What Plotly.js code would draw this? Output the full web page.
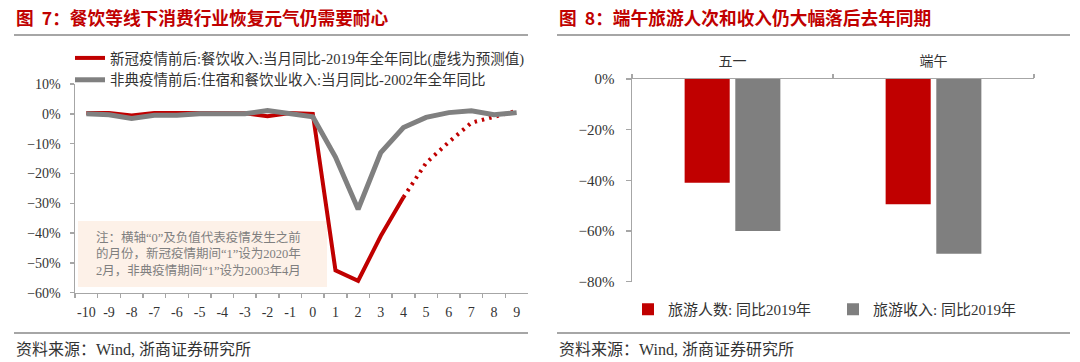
<!DOCTYPE html>
<html>
<head>
<meta charset="utf-8">
<script src="https://cdn.plot.ly/plotly-3.0.1.min.js"></script>
<style>html,body{margin:0;padding:0;background:#fff;}#chart{width:1080px;height:362px;}</style>
</head>
<body>
<div id="chart"></div>
<script>
// ---- data ----
const monthLabels = ['-10','-9','-8','-7','-6','-5','-4','-3','-2','-1','0','1','2','3','4','5','6','7','8','9'];
const covidMonths = ['-10','-9','-8','-7','-6','-5','-4','-3','-2','-1','0','1','2','3','4'];
const covidValues = [0.3, 0.3, -0.6, 0.3, 0.3, 0.3, 0.2, 0.2, -0.8, 0.3, 0.0, -52.5, -56, -41, -28];
const covidForecastMonths = ['4','5','6','7','8','9'];
const covidForecastValues = [-28, -16.5, -9.5, -3, -1, 1];
const sarsMonths = monthLabels;
const sarsValues = [0, -0.3, -1.6, -0.5, -0.5, 0, 0, 0, 1.1, 0, -1.0, -14.5, -32, -13, -4.6, -1.2, 0.4, 1.0, -0.3, 0.4];
const covidName = '新冠疫情前后:餐饮收入:当月同比-2019年全年同比(虚线为预测值)';
const sarsName = '非典疫情前后:住宿和餐饮业收入:当月同比-2002年全年同比';

const holidays = ['五一', '端午'];
const touristCount = [-41, -49.5];
const touristIncome = [-60, -69];
const countName = '旅游人数: 同比2019年';
const incomeName = '旅游收入: 同比2019年';

const title7 = '图&nbsp;&nbsp;7：餐饮等线下消费行业恢复元气仍需要耐心';
const title8 = '图&nbsp;&nbsp;8：端午旅游人次和收入仍大幅落后去年同期';
const sourceText = '资料来源：Wind, 浙商证券研究所';
const noteText = '注：横轴“0”及负值代表疫情发生之前<br>的月份，新冠疫情期间“1”设为2020年<br>2月，非典疫情期间“1”设为2003年4月';

// ---- styling ----
const RED = '#C00000';
const GRAY = '#808080';
const AXIS = '#A6A6A6';
const FONT = "'Liberation Serif', 'Times New Roman', 'Noto Sans CJK SC', serif";
const W = 1080, H = 362;
const px = v => v / W;
const py = v => (H - v) / H;

const traces = [
  {x: covidMonths, y: covidValues, type: 'scatter', mode: 'lines', name: covidName,
   line: {color: RED, width: 4}, xaxis: 'x', yaxis: 'y', legend: 'legend'},
  {x: covidForecastMonths, y: covidForecastValues, type: 'scatter', mode: 'lines', name: '预测',
   line: {color: RED, width: 4, dash: '2.5px,5px'}, xaxis: 'x', yaxis: 'y', showlegend: false},
  {x: sarsMonths, y: sarsValues, type: 'scatter', mode: 'lines', name: sarsName,
   line: {color: GRAY, width: 5}, xaxis: 'x', yaxis: 'y', legend: 'legend'},
  {x: holidays, y: touristCount, type: 'bar', name: countName, marker: {color: RED},
   xaxis: 'x2', yaxis: 'y2', legend: 'legend2'},
  {x: holidays, y: touristIncome, type: 'bar', name: incomeName, marker: {color: '#7F7F7F'},
   xaxis: 'x2', yaxis: 'y2', legend: 'legend2'}
];

const layout = {
  width: W, height: H,
  margin: {l: 0, r: 0, t: 0, b: 0},
  paper_bgcolor: '#fff', plot_bgcolor: 'rgba(0,0,0,0)',
  font: {family: FONT, size: 14, color: '#333'},
  barmode: 'group', bargap: 0.496, bargroupgap: 0.11,
  xaxis: {
    domain: [px(75), px(528)], anchor: 'y', type: 'category',
    categoryorder: 'array', categoryarray: monthLabels,
    range: [-0.5, 19.5], tickson: 'boundaries', tickangle: 0,
    showline: true, linecolor: AXIS, linewidth: 1.5,
    ticks: 'outside', ticklen: 4, tickcolor: AXIS, tickwidth: 1.5,
    ticklabelstandoff: 6, showgrid: false, zeroline: false,
    tickfont: {family: FONT, size: 14, color: '#333'}
  },
  yaxis: {
    domain: [py(292.7), py(84)], anchor: 'x', range: [-60, 10], dtick: 10,
    ticksuffix: '%', showline: true, linecolor: AXIS, linewidth: 1.5,
    ticks: 'outside', ticklen: 4, tickcolor: AXIS, tickwidth: 1.5,
    ticklabelstandoff: 6, showgrid: false, zeroline: false,
    tickfont: {family: FONT, size: 14, color: '#333'}
  },
  xaxis2: {
    domain: [px(632), px(1034)], anchor: 'y2', side: 'top', type: 'category',
    tickson: 'boundaries', tickangle: 0, showline: true, linecolor: AXIS, linewidth: 1.5,
    ticks: 'outside', ticklen: 4, tickcolor: AXIS, tickwidth: 1.5,
    ticklabelstandoff: 6, showgrid: false, zeroline: false,
    tickfont: {family: FONT, size: 14, color: '#333'}
  },
  yaxis2: {
    domain: [py(281.5), py(79)], anchor: 'x2', range: [-80, 0], dtick: 20,
    ticksuffix: '%', showline: true, linecolor: AXIS, linewidth: 1.5,
    ticks: 'outside', ticklen: 5, tickcolor: AXIS, tickwidth: 1.5,
    ticklabelstandoff: 8, showgrid: false, zeroline: false,
    tickfont: {family: FONT, size: 15, color: '#333'}
  },
  legend: {
    x: px(70), y: py(42), xanchor: 'left', yanchor: 'top',
    orientation: 'v', bgcolor: 'rgba(0,0,0,0)', borderwidth: 0,
    font: {family: FONT, size: 14.5, color: '#333'}, tracegroupgap: 0
  },
  legend2: {
    x: px(628), y: py(293), xanchor: 'left', yanchor: 'top',
    orientation: 'h', bgcolor: 'rgba(0,0,0,0)', borderwidth: 0,
    font: {family: FONT, size: 15, color: '#333'}, entrywidth: 160
  },
  shapes: [
    {type: 'line', xref: 'paper', yref: 'paper', x0: px(14), x1: px(528), y0: py(35), y1: py(35), line: {color: '#A6A6A6', width: 2}},
    {type: 'line', xref: 'paper', yref: 'paper', x0: px(557), x1: px(1070), y0: py(35), y1: py(35), line: {color: '#A6A6A6', width: 2}},
    {type: 'line', xref: 'paper', yref: 'paper', x0: px(14), x1: px(528), y0: py(333), y1: py(333), line: {color: '#A6A6A6', width: 2}},
    {type: 'line', xref: 'paper', yref: 'paper', x0: px(557), x1: px(1070), y0: py(333), y1: py(333), line: {color: '#A6A6A6', width: 2}},
    {type: 'rect', xref: 'paper', yref: 'paper', x0: px(78), x1: px(327), y0: py(287), y1: py(221), fillcolor: '#FDF1E8', line: {width: 0}, layer: 'below'}
  ],
  annotations: [
    {text: '<b>' + title7 + '</b>', xref: 'paper', yref: 'paper', x: px(14), y: py(17), xanchor: 'left', yanchor: 'middle', showarrow: false,
     font: {family: "'Noto Sans CJK SC', sans-serif", size: 17.7, color: RED}},
    {text: '<b>' + title8 + '</b>', xref: 'paper', yref: 'paper', x: px(557), y: py(17), xanchor: 'left', yanchor: 'middle', showarrow: false,
     font: {family: "'Noto Sans CJK SC', sans-serif", size: 17.7, color: RED}},
    {text: sourceText, xref: 'paper', yref: 'paper', x: px(14), y: py(349), xanchor: 'left', yanchor: 'middle', showarrow: false,
     font: {family: FONT, size: 16, color: '#333'}},
    {text: sourceText, xref: 'paper', yref: 'paper', x: px(557), y: py(349), xanchor: 'left', yanchor: 'middle', showarrow: false,
     font: {family: FONT, size: 16, color: '#333'}},
    {text: noteText, xref: 'paper', yref: 'paper', x: px(94), y: py(253.5), xanchor: 'left', yanchor: 'middle', align: 'left', showarrow: false,
     font: {family: FONT, size: 12.5, color: '#7F7F7F'}}
  ]
};

Plotly.newPlot('chart', traces, layout, {staticPlot: true, displayModeBar: false});
</script>
</body>
</html>
